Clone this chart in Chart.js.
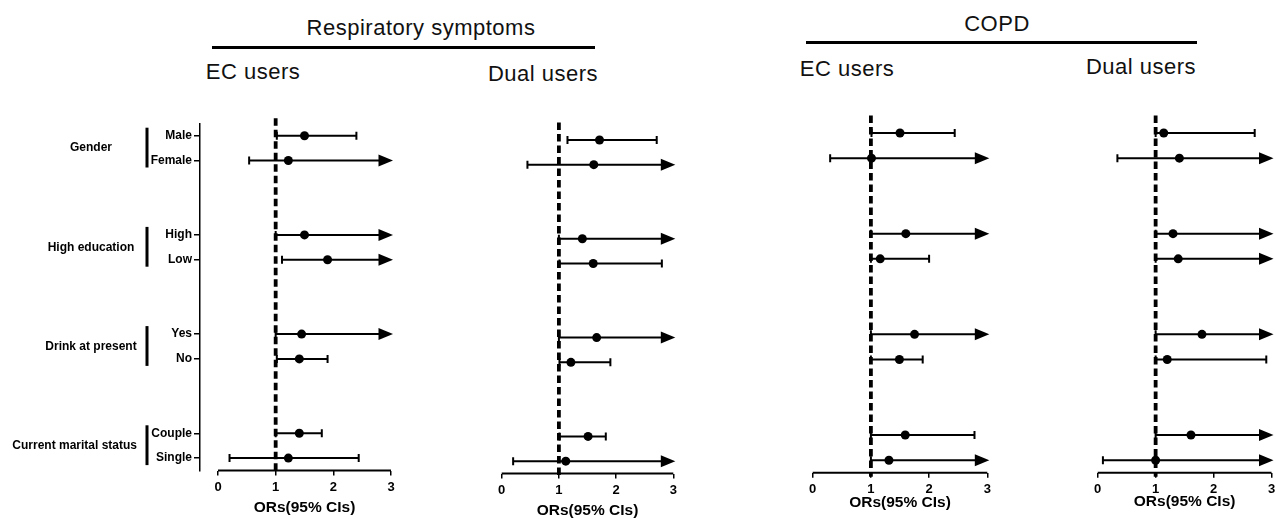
<!DOCTYPE html>
<html>
<head>
<meta charset="utf-8">
<script src="https://cdn.jsdelivr.net/npm/chart.js@4.4.1/dist/chart.umd.min.js"></script>
<style>
  html, body { margin: 0; padding: 0; background: #fff; }
  #page { position: relative; width: 1276px; height: 519px; overflow: hidden;
          font-family: "Liberation Sans", Arial, sans-serif; color: #111; }
  .hdr { position: absolute; font-size: 22px; letter-spacing: 0.5px; line-height: 1;
         white-space: nowrap; transform: translate(-50%, -50%); }
  .rule { position: absolute; height: 3px; background: #000; }
  canvas { position: absolute; top: 0; }
</style>
</head>
<body>
<div id="page">
  <div class="hdr" style="left:421px;top:28px">Respiratory symptoms</div>
  <div class="rule" style="left:212px;top:46px;width:383px"></div>
  <div class="hdr" style="left:253px;top:72px">EC users</div>
  <div class="hdr" style="left:543px;top:74px">Dual users</div>
  <div class="hdr" style="left:997px;top:24px">COPD</div>
  <div class="rule" style="left:806px;top:41px;width:391px"></div>
  <div class="hdr" style="left:847px;top:69px">EC users</div>
  <div class="hdr" style="left:1141px;top:67px">Dual users</div>

  <canvas id="respEc" width="420" height="519" style="left:0px"></canvas>
  <canvas id="respDual" width="270" height="519" style="left:430px"></canvas>
  <canvas id="copdEc" width="290" height="519" style="left:720px"></canvas>
  <canvas id="copdDual" width="266" height="519" style="left:1010px"></canvas>
</div>

<script>
const FONT = '"Liberation Sans", Arial, sans-serif';

// Labels
const groupLabels = ['Gender', 'High education', 'Drink at present', 'Current marital status'];
const rowLabels = ['Male', 'Female', 'High', 'Low', 'Yes', 'No', 'Couple', 'Single'];
const xTicks = [0, 1, 2, 3];
const refOR = 1;
const axisTitle = 'ORs(95% CIs)';

// Respiratory symptoms - EC users (null upper = CI runs past the axis)
const respEcOR   = [1.50, 1.22, 1.50, 1.90, 1.45, 1.41, 1.41, 1.22];
const respEcLow  = [1.02, 0.54, 1.00, 1.11, 1.00, 1.02, 1.00, 0.20];
const respEcHigh = [2.40, null, null, null, null, 1.90, 1.80, 2.44];

// Respiratory symptoms - Dual users
const respDualOR   = [1.71, 1.61, 1.41, 1.60, 1.66, 1.21, 1.51, 1.12];
const respDualLow  = [1.15, 0.45, 1.00, 1.01, 1.00, 1.01, 1.01, 0.20];
const respDualHigh = [2.71, null, null, 2.80, null, 1.90, 1.82, null];

// COPD - EC users
const copdEcOR   = [1.50, 1.01, 1.60, 1.16, 1.75, 1.49, 1.59, 1.31];
const copdEcLow  = [1.01, 0.30, 1.00, 1.00, 1.00, 1.00, 1.00, 1.00];
const copdEcHigh = [2.44, null, null, 2.00, null, 1.89, 2.78, null];

// COPD - Dual users
const copdDualOR   = [1.14, 1.41, 1.30, 1.39, 1.80, 1.20, 1.61, 1.00];
const copdDualLow  = [1.00, 0.34, 1.00, 1.00, 1.00, 1.00, 1.00, 0.09];
const copdDualHigh = [2.71, null, null, null, null, 2.91, null, null];

// two rows per group, groups separated by two empty rows
const slotOf = i => Math.floor(i / 2) * 4 + (i % 2);
const slots = rowLabels.map((_, i) => slotOf(i));

function forestPlugin(panel) {
    return {
        id: 'forest',
        beforeDatasetsDraw(chart) {
            const { ctx, chartArea, scales: { x, y } } = chart;
            const refX = x.getPixelForValue(refOR);
            const xEnd = x.getPixelForValue(x.max);
            ctx.save();
            ctx.strokeStyle = '#000';
            ctx.fillStyle = '#000';

            // dashed reference line at OR = 1
            ctx.lineWidth = 3.8;
            ctx.setLineDash([7.5, 4]);
            ctx.beginPath();
            ctx.moveTo(refX, chartArea.top - 5);
            ctx.lineTo(refX, chartArea.bottom + 4);
            ctx.stroke();
            ctx.setLineDash([]);

            // confidence intervals
            ctx.lineWidth = 2;
            panel.low.forEach((lo, i) => {
                const hi = panel.high[i];
                const py = y.getPixelForValue(slots[i]);
                const x0 = x.getPixelForValue(lo);
                const x1 = hi == null ? xEnd - 6 : x.getPixelForValue(hi);
                ctx.beginPath();
                ctx.moveTo(x0, py);
                ctx.lineTo(x1, py);
                ctx.moveTo(x0, py - 4);
                ctx.lineTo(x0, py + 4);
                if (hi != null) {
                    ctx.moveTo(x1, py - 4);
                    ctx.lineTo(x1, py + 4);
                }
                ctx.stroke();
                if (hi == null) {
                    ctx.beginPath();
                    ctx.moveTo(xEnd - 12.5, py - 6);
                    ctx.lineTo(xEnd + 2, py);
                    ctx.lineTo(xEnd - 12.5, py + 6);
                    ctx.closePath();
                    ctx.fill();
                }
            });
            ctx.restore();
        },
        afterDraw(chart) {
            const { ctx, chartArea, scales: { x, y } } = chart;
            const x0 = x.getPixelForValue(xTicks[0]);
            const x3 = x.getPixelForValue(xTicks[xTicks.length - 1]);
            ctx.save();
            ctx.strokeStyle = '#000';
            ctx.fillStyle = '#000';

            // x axis line only over the 0..3 range
            ctx.lineWidth = 2;
            ctx.beginPath();
            ctx.moveTo(x0, chartArea.bottom);
            ctx.lineTo(x3, chartArea.bottom);
            ctx.stroke();

            ctx.font = 'bold 15.5px ' + FONT;
            ctx.textAlign = 'center';
            ctx.textBaseline = 'middle';
            ctx.fillText(axisTitle, (x0 + x3) / 2, panel.titleY);

            // group labels with brackets (first panel only)
            if (panel.groups) {
                ctx.font = 'bold 12px ' + FONT;
                groupLabels.forEach((label, g) => {
                    const y1 = y.getPixelForValue(slots[g * 2]);
                    const y2 = y.getPixelForValue(slots[g * 2 + 1]);
                    ctx.fillRect(145.5, y1 - 8, 3, y2 - y1 + 15);
                    const w = ctx.measureText(label).width;
                    ctx.fillText(label, Math.min(91, 137 - w / 2), (y1 + y2) / 2);
                });
            }
            ctx.restore();
        }
    };
}

function initForestPanel(canvasId, panel) {
    const canvas = document.getElementById(canvasId);
    const left = parseFloat(canvas.style.left);
    const unit = (panel.threeX - panel.zeroX) / 3;
    const areaLeft = panel.axisX != null ? panel.axisX : panel.zeroX;
    const xMin = -(panel.zeroX - areaLeft) / unit;
    const yWidth = panel.axisX != null ? panel.axisX - left : 0;

    const points = panel.or.map((v, i) => ({ x: v, y: slots[i] }));

    return new Chart(canvas.getContext('2d'), {
        type: 'scatter',
        data: {
            datasets: [{
                data: points,
                pointRadius: 4.5,
                pointHoverRadius: 4.5,
                backgroundColor: '#000',
                borderWidth: 0,
                clip: false
            }]
        },
        options: {
            responsive: false,
            animation: false,
            events: [],
            layout: {
                padding: {
                    left: panel.axisX != null ? 0 : panel.zeroX - left,
                    right: canvas.width - (panel.threeX - left),
                    top: panel.top,
                    bottom: 0
                }
            },
            plugins: {
                legend: { display: false },
                tooltip: { enabled: false }
            },
            scales: {
                x: {
                    type: 'linear',
                    min: xMin,
                    max: xTicks[xTicks.length - 1],
                    afterBuildTicks: axis => { axis.ticks = xTicks.map(v => ({ value: v })); },
                    afterFit: axis => {
                        axis.height = 519 - panel.bottom;
                        axis.paddingLeft = 0;
                        axis.paddingRight = 0;
                    },
                    border: { display: false },
                    grid: {
                        drawOnChartArea: false,
                        drawTicks: true,
                        tickLength: 5,
                        color: '#000',
                        lineWidth: 1.5
                    },
                    ticks: {
                        color: '#000',
                        padding: 4,
                        maxRotation: 0,
                        autoSkip: false,
                        font: { family: FONT, size: 13, weight: 'bold' }
                    }
                },
                y: {
                    type: 'linear',
                    reverse: true,
                    min: -0.5,
                    max: slots[slots.length - 1] + 0.5,
                    display: panel.axisX != null,
                    afterBuildTicks: axis => { axis.ticks = slots.map(v => ({ value: v })); },
                    afterFit: axis => { axis.width = yWidth; },
                    border: { display: true, color: '#000', width: 1.5 },
                    grid: {
                        drawOnChartArea: false,
                        drawTicks: true,
                        tickLength: 6,
                        color: '#000',
                        lineWidth: 1.5
                    },
                    ticks: {
                        color: '#000',
                        padding: 2,
                        autoSkip: false,
                        font: { family: FONT, size: 12, weight: 'bold' },
                        callback: (value, index) => rowLabels[index]
                    }
                }
            }
        },
        plugins: [forestPlugin(panel)]
    });
}

initForestPanel('respEc', {
    or: respEcOR, low: respEcLow, high: respEcHigh,
    axisX: 200, zeroX: 218, threeX: 391, top: 123.3, bottom: 470.5, titleY: 508, groups: true
});
initForestPanel('respDual', {
    or: respDualOR, low: respDualLow, high: respDualHigh,
    zeroX: 501.7, threeX: 673.3, top: 127.6, bottom: 473.5, titleY: 511
});
initForestPanel('copdEc', {
    or: copdEcOR, low: copdEcLow, high: copdEcHigh,
    zeroX: 812.7, threeX: 987.3, top: 120.4, bottom: 472.8, titleY: 503
});
initForestPanel('copdDual', {
    or: copdDualOR, low: copdDualLow, high: copdDualHigh,
    zeroX: 1097.7, threeX: 1273.3, top: 120.4, bottom: 472.8, titleY: 502
});
</script>
</body>
</html>
